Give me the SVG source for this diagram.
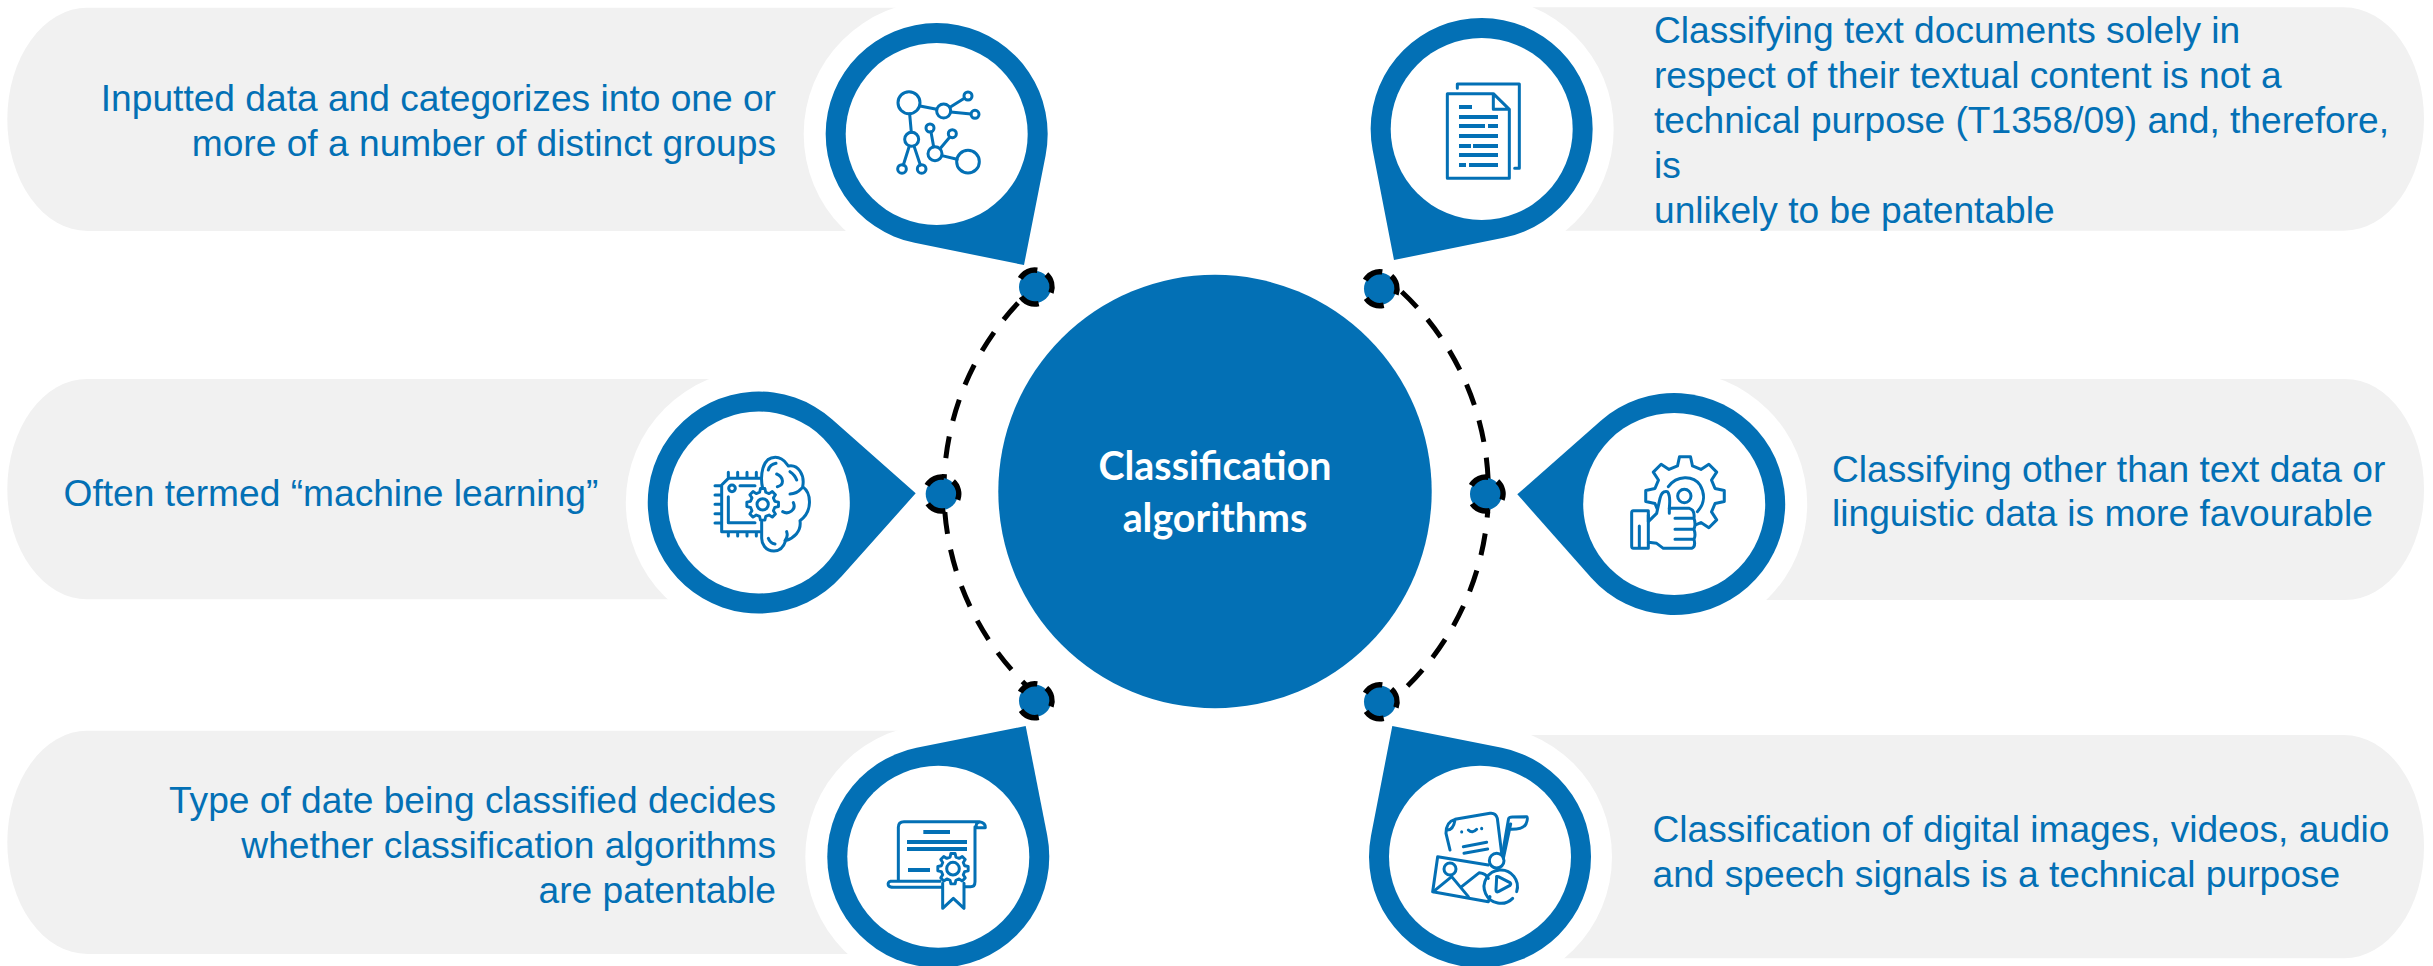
<svg xmlns="http://www.w3.org/2000/svg" xmlns:xlink="http://www.w3.org/1999/xlink" width="2433" height="966" viewBox="0 0 2433 966">
<style>
.pill{fill:#f1f1f1}
.halo{fill:#fff}
.pin{fill:#0370b5}
.in{fill:#fff}
.t{font-family:"Liberation Sans",Arial,sans-serif;font-size:37.15px;fill:#0370b5}
.e{text-anchor:end}
.c{font-family:Lato,"Liberation Sans",sans-serif;font-weight:700;font-size:39.4px;fill:#fff;text-anchor:middle}
.i{fill:none;stroke:#0370b5;stroke-width:9;stroke-linecap:round;stroke-linejoin:round}
.b{fill:#0370b5;stroke:none}
.arc{fill:none;stroke:#000;stroke-width:5;stroke-dasharray:22 16}
.dotf{fill:#0370b5}
.dotr{fill:none;stroke:#000;stroke-width:5.5;stroke-dasharray:20 17 20 19 20 11}
</style>
<defs>
<path id="gear" d="M7.57-1.89L9.9-1.39 9.9 1.39 7.57 1.89 6.69 4.02 7.99 6.02 6.02 7.99 4.02 6.69 1.89 7.57 1.39 9.9-1.39 9.9-1.89 7.57-4.02 6.69-6.02 7.99-7.99 6.02-6.69 4.02-7.57 1.89-9.9 1.39-9.9-1.39-7.57-1.89-6.69-4.02-7.99-6.02-6.02-7.99-4.02-6.69-1.89-7.57-1.39-9.9 1.39-9.9 1.89-7.57 4.02-6.69 6.02-7.99 7.99-6.02 6.69-4.02Z"/>
<g id="dot"><circle class="dotf" r="16"/><circle class="dotr" r="17" transform="rotate(-48)"/></g>
</defs>

<g id="node-tl">
<rect class="pill" x="7.3" y="7.7" width="1012" height="223.3" rx="80" ry="111.6"/>
<circle class="halo" cx="936.7" cy="134" r="133"/>
<path class="pin" d="M1024 265L1045.6 155.4A111 111 0 1 0 914.6 242.8Z"/>
<circle class="in" cx="936.7" cy="134" r="91"/>
<g transform="translate(780 0) scale(.33333)" class="i">
<circle cx="387" cy="308" r="33"/><circle cx="491" cy="333" r="21"/><circle cx="564" cy="288" r="12"/><circle cx="585" cy="343" r="12"/><circle cx="395" cy="418" r="21"/><circle cx="366" cy="507" r="13"/><circle cx="425" cy="507" r="13"/><circle cx="450" cy="384" r="12"/><circle cx="517" cy="401" r="12"/><circle cx="465" cy="461" r="21"/><circle cx="564" cy="485" r="34"/>
<path d="M420 318L470 328M510 322L553 295M512 336L573 342M389 342L394 397M388 438L370 495M402 438L421 495M453 396L461 440M509 412L480 446M486 467L531 478"/>
</g>
<text class="t e" x="776" y="111">Inputted data and categorizes into one or</text>
<text class="t e" x="776" y="156">more of a number of distinct groups</text>
</g>

<g id="node-ml">
<rect class="pill" x="7.3" y="379" width="843" height="220.3" rx="80" ry="110"/>
<circle class="halo" cx="758.8" cy="502.5" r="133"/>
<path class="pin" d="M915.7 493.3L832.3 419.4A111 111 0 1 0 841.7 576.3Z"/>
<circle class="in" cx="758.8" cy="502.5" r="91"/>
<g transform="translate(620 370) scale(.33333)" class="i">
<path d="M420 325L325 325 305 345 305 485 420 485M325 380L325 458 405 458M325 307V325M353 307V325M381 307V325M409 307V325M325 485V498M353 485V498M381 485V498M409 485V498M285 347H305M285 375H305M285 403H305M285 431H305M285 459H305M360 347H405"/>
<circle cx="336" cy="355" r="10"/>
<use xlink:href="#gear" href="#gear" transform="translate(428 403) scale(4.8)" style="stroke-width:1.8;fill:#fff"/>
<circle cx="428" cy="403" r="17"/>
<path d="M428 355C420 320 425 262 466 262 490 262 498 280 505 288 535 282 555 315 548 350 575 370 578 425 540 452 545 485 520 505 497 512 490 535 475 543 462 543 435 543 425 520 425 505V455"/>
<path d="M445 300Q450 283 468 280M470 312C490 320 495 345 472 350M510 305Q525 315 530 330M510 372Q530 372 545 355M488 425C505 435 530 420 520 398M495 512Q505 500 500 485M445 505Q450 520 465 522"/>
</g>
<text class="t" x="63.6" y="506">Often termed “machine learning”</text>
</g>

<g id="node-bl">
<rect class="pill" x="7.3" y="730.7" width="1012" height="223.3" rx="80" ry="111.6"/>
<circle class="halo" cx="938.3" cy="856.7" r="133"/>
<path class="pin" d="M1025.7 726L916.5 747.8A111 111 0 1 0 1047.2 835.3Z"/>
<circle class="in" cx="938.3" cy="856.7" r="91"/>
<g transform="translate(780 670) scale(.33333)" class="i">
<path d="M355 630V472Q355 455 372 455H598Q617 458 616 473H590Q585 460 598 456M585 470V635Q585 650 572 650H557M480 634H332Q322 636 325 646 329 652 340 652H487M488 640V715L520 685 552 715V640"/>
<rect class="b" x="430" y="480" width="80" height="12"/><rect class="b" x="381" y="510" width="180" height="12"/><rect class="b" x="381" y="531" width="180" height="12"/><rect class="b" x="384" y="594" width="66" height="12"/>
<use xlink:href="#gear" href="#gear" transform="translate(519 596) scale(4.6)" style="stroke-width:1.9;fill:#fff"/>
<circle cx="519" cy="596" r="19"/>
</g>
<text class="t e" x="776" y="813">Type of date being classified decides</text>
<text class="t e" x="776" y="858">whether classification algorithms</text>
<text class="t e" x="776" y="903">are patentable</text>
</g>

<g id="node-tr">
<rect class="pill" x="1400" y="7.3" width="1024" height="223.4" rx="80" ry="111.6"/>
<circle class="halo" cx="1481.7" cy="129" r="132"/>
<path class="pin" d="M1394 260L1372.7 150.2A111 111 0 1 1 1503.6 237.8Z"/>
<circle class="in" cx="1481.7" cy="129" r="91"/>
<g transform="translate(1340 0) scale(.33333)" class="i">
<path d="M460 281H322V535H508V328ZM460 281V328H508M352 265V252H538V505H524"/>
<g class="b"><rect x="357" y="315" width="39" height="12"/><rect x="357" y="345" width="117" height="12"/><rect x="357" y="372" width="78" height="12"/><rect x="444" y="372" width="30" height="12"/><rect x="357" y="402" width="117" height="12"/><rect x="357" y="432" width="36" height="12"/><rect x="399" y="432" width="75" height="12"/><rect x="357" y="459" width="117" height="12"/><rect x="357" y="489" width="21" height="12"/><rect x="387" y="489" width="87" height="12"/></g>
</g>
<text class="t" x="1654" y="42.7">Classifying text documents solely in</text>
<text class="t" x="1654" y="88">respect of their textual content is not a</text>
<text class="t" x="1654" y="133">technical purpose (T1358/09) and, therefore,</text>
<text class="t" x="1654" y="178">is</text>
<text class="t" x="1654" y="223">unlikely to be patentable</text>
</g>

<g id="node-mr">
<rect class="pill" x="1580" y="379" width="844" height="221" rx="79" ry="110"/>
<circle class="halo" cx="1674.2" cy="504" r="133"/>
<path class="pin" d="M1517.3 494.3L1600.8 420.7A111 111 0 1 1 1591.2 577.7Z"/>
<circle class="in" cx="1674.2" cy="504" r="91"/>
<g transform="translate(1460 370) scale(.33333)" class="i">
<use xlink:href="#gear" href="#gear" transform="translate(675 378) scale(11.9)" style="stroke-width:.76"/>
<circle cx="673" cy="378" r="20"/>
<path d="M625 350C650 315 700 315 720 345 735 370 735 400 712 425" />
<path style="fill:#fff" d="M565 455L590 430 600 385Q605 362 622 365 632 375 628 415H688Q705 420 702 445 708 462 702 478 708 495 702 508 708 530 695 535H610L590 520 565 517V535H520Q515 535 515 528V428Q515 422 520 422H565Z"/>
<path d="M538 468V530M565 435V517M645 445H700M645 478H700M645 508H700M628 415V430"/>
</g>
<text class="t" x="1832" y="481.7">Classifying other than text data or</text>
<text class="t" x="1832" y="526">linguistic data is more favourable</text>
</g>

<g id="node-br">
<rect class="pill" x="1400" y="735" width="1024" height="223.3" rx="80" ry="111.6"/>
<circle class="halo" cx="1480" cy="856.7" r="132"/>
<path class="pin" d="M1392.3 726L1501.8 747.8A111 111 0 1 1 1371 835.7Z"/>
<circle class="in" cx="1480" cy="856.7" r="91"/>
<g transform="translate(1340 670) scale(.33333)" class="i">
<path d="M330 540L318 490Q318 455 345 448L450 430Q467 428 472 445L485 550M322 480Q340 480 345 450M370 530L440 517M372 550L443 537M385 480Q397 492 410 478M365 485V486M425 475V476"/>
<circle cx="470" cy="572" r="22"/>
<path d="M490 565L512 462M505 450L487 555M505 450Q505 440 520 441L560 440Q565 445 558 462 550 478 515 478"/>
<path d="M293 560L445 585M293 560L278 665 445 695 450 680"/>
<circle cx="330" cy="597" r="18"/>
<path d="M280 665L335 620 385 680M365 650L418 608Q438 610 445 625"/>
<path d="M518 685A50 50 0 1 1 530 665M470 622Q468 618 475 620L510 638Q514 642 510 646L475 665Q468 668 468 660Z"/>
</g>
<text class="t" x="1652.5" y="842">Classification of digital images, videos, audio</text>
<text class="t" x="1652.5" y="887">and speech signals is a technical purpose</text>
</g>

<g id="connectors">
<path class="arc" d="M1018 303A273 273 0 0 0 1028 687"/>
<path class="arc" d="M1401.7 291.7A274 274 0 0 1 1401.7 691.7"/>
</g>

<g id="dots">
<use xlink:href="#dot" href="#dot" x="1035" y="287"/>
<use xlink:href="#dot" href="#dot" x="1380" y="288.7"/>
<use xlink:href="#dot" href="#dot" x="941.7" y="494"/>
<use xlink:href="#dot" href="#dot" x="1486" y="494"/>
<use xlink:href="#dot" href="#dot" x="1035" y="700.7"/>
<use xlink:href="#dot" href="#dot" x="1380" y="701.7"/>
</g>

<g id="node-center">
<circle class="pin" cx="1215" cy="491.5" r="216.7"/>
<text class="c" x="1215" y="480">Classification</text>
<text class="c" x="1215" y="531.7">algorithms</text>
</g>
</svg>
